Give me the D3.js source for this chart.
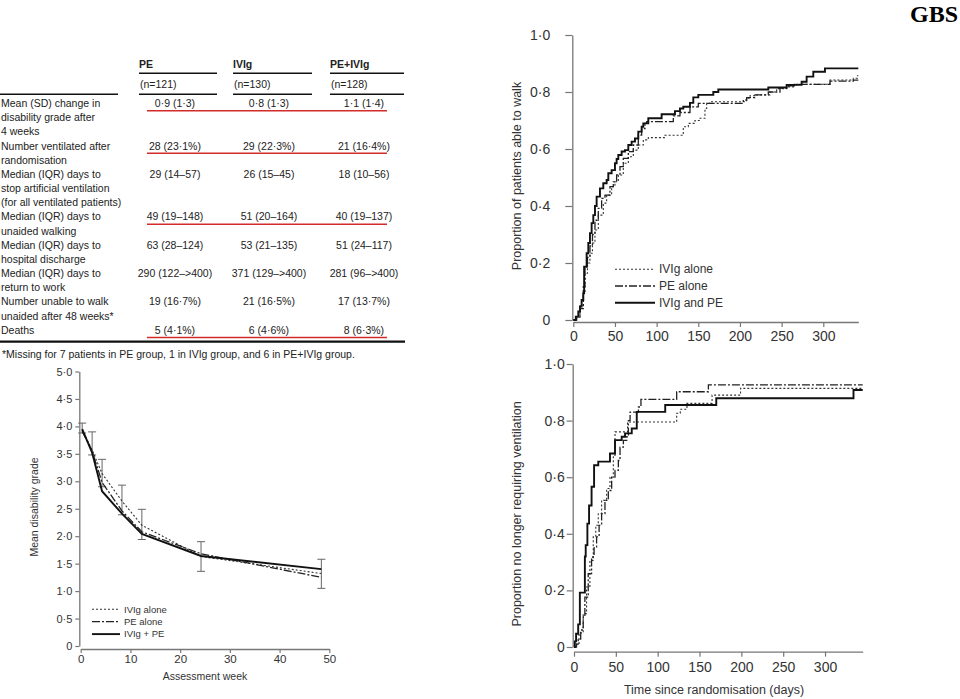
<!DOCTYPE html>
<html><head><meta charset="utf-8">
<script src="https://cdn.jsdelivr.net/npm/d3@7/dist/d3.min.js"></script>
<style>body{margin:0;background:#fff}svg{display:block}</style>
</head><body><svg id="c" width="960" height="699"></svg>
<script>
// ---------------- DATA ----------------
const title = "GBS";
// table
const groups = ["PE", "IVIg", "PE+IVIg"];
const groupN = ["(n=121)", "(n=130)", "(n=128)"];
const rowLabels = [
  ["Mean (SD) change in", "disability grade after", "4 weeks"],
  ["Number ventilated after", "randomisation"],
  ["Median (IQR) days to", "stop artificial ventilation", "(for all ventilated patients)"],
  ["Median (IQR) days to", "unaided walking"],
  ["Median (IQR) days to", "hospital discharge"],
  ["Median (IQR) days to", "return to work"],
  ["Number unable to walk", "unaided after 48 weeks*"],
  ["Deaths"]
];
const valuesPE   = ["0·9 (1·3)", "28 (23·1%)", "29 (14–57)", "49 (19–148)", "63 (28–124)", "290 (122–>400)", "19 (16·7%)", "5 (4·1%)"];
const valuesIVIg = ["0·8 (1·3)", "29 (22·3%)", "26 (15–45)", "51 (20–164)", "53 (21–135)", "371 (129–>400)", "21 (16·5%)", "6 (4·6%)"];
const valuesBoth = ["1·1 (1·4)", "21 (16·4%)", "18 (10–56)", "40 (19–137)", "51 (24–117)", "281 (96–>400)", "17 (13·7%)", "8 (6·3%)"];
const highlightedRows = [0, 1, 3, 7];
const footnote = "*Missing for 7 patients in PE group, 1 in IVIg group, and 6 in PE+IVIg group.";

// mean disability grade chart
const weeks      = [0.3, 2.3, 4.3, 8.3, 12.3, 24.2, 48.4];
const gradeIVIg  = [3.94, 3.57, 3.14, 2.64, 2.20, 1.63, 1.32];
const gradePE    = [3.91, 3.55, 2.98, 2.46, 2.08, 1.68, 1.25];
const gradeBoth  = [3.95, 3.52, 2.82, 2.41, 2.04, 1.64, 1.40];
const errLow     = [3.88, 3.48, 2.90, 2.39, 1.94, 1.36, 1.05];
const errHigh    = [4.06, 3.90, 3.40, 2.93, 2.49, 1.90, 1.58];
const gradeTicks = [0, 0.5, 1, 1.5, 2, 2.5, 3, 3.5, 4, 4.5, 5];
const weekTicks  = [0, 10, 20, 30, 40, 50];
const legendGrade = ["IVIg alone", "PE alone", "IVIg + PE"];

// Kaplan-Meier: able to walk  [day, proportion]
const walkIVIg = [[0,0],[4,0.01],[8,0.05],[12,0.10],[14,0.164],[17,0.20],[20,0.234],[23,0.27],[26,0.316],[30,0.368],[36,0.41],[40,0.438],[46,0.468],[50,0.485],[54,0.509],[60,0.55],[66,0.573],[72,0.596],[78,0.614],[84,0.632],[90,0.64],[110,0.648],[132,0.678],[138,0.69],[146,0.70],[152,0.708],[158,0.742],[160,0.76],[164,0.766],[208,0.778],[212,0.787],[218,0.79],[236,0.80],[244,0.812],[256,0.818],[264,0.827],[308,0.842],[336,0.848],[341,0.857]];
const walkPE   = [[0,0],[4,0.012],[8,0.04],[12,0.117],[14,0.187],[17,0.22],[20,0.26],[23,0.30],[26,0.35],[30,0.392],[34,0.427],[38,0.438],[44,0.468],[48,0.485],[52,0.509],[56,0.538],[60,0.567],[66,0.591],[72,0.614],[78,0.649],[82,0.672],[86,0.69],[88,0.696],[120,0.716],[128,0.728],[140,0.748],[150,0.76],[204,0.772],[208,0.78],[218,0.79],[234,0.80],[248,0.814],[258,0.822],[268,0.827],[308,0.838],[336,0.842]];
const walkBoth = [[0,0],[3,0.012],[6,0.03],[8,0.047],[10,0.07],[12,0.094],[13,0.187],[16,0.234],[18,0.27],[20,0.305],[22,0.34],[24,0.368],[26,0.40],[28,0.433],[32,0.462],[36,0.48],[40,0.491],[42,0.515],[46,0.526],[50,0.55],[52,0.565],[54,0.579],[58,0.591],[62,0.596],[66,0.614],[70,0.626],[74,0.637],[78,0.661],[82,0.678],[84,0.69],[90,0.708],[106,0.722],[122,0.733],[128,0.742],[132,0.748],[140,0.762],[144,0.781],[150,0.79],[168,0.80],[174,0.809],[234,0.816],[256,0.825],[274,0.836],[280,0.854],[288,0.871],[302,0.883]];
const walkEnd = 342;

// Kaplan-Meier: no longer requiring ventilation
const ventIVIg = [[0,0],[3,0.01],[6,0.05],[11,0.118],[15,0.212],[19,0.306],[23,0.389],[26,0.43],[29,0.471],[33,0.518],[39,0.56],[43,0.60],[47,0.677],[49,0.76],[64,0.795],[122.7,0.826],[127,0.84],[135,0.861],[165,0.89],[199,0.914]];
const ventPE   = [[0,0],[3,0.01],[5,0.025],[8,0.06],[11,0.106],[13,0.176],[17,0.259],[21,0.318],[24,0.35],[27,0.389],[30,0.43],[33,0.471],[37,0.518],[41,0.553],[45,0.60],[49,0.624],[53,0.659],[55,0.706],[59,0.73],[63,0.743],[65,0.80],[67,0.83],[77,0.848],[80,0.875],[122.7,0.902],[160.6,0.926]];
const ventBoth = [[0,0],[1,0.02],[2.5,0.047],[5,0.08],[7,0.192],[13,0.32],[14,0.36],[16,0.436],[18,0.50],[21,0.566],[24,0.642],[29,0.655],[43,0.684],[49,0.731],[57,0.743],[61,0.755],[69,0.772],[75,0.831],[109,0.855],[170,0.879],[334,0.908]];
const ventEnd = 345;

const propTicks = [0, 0.2, 0.4, 0.6, 0.8, 1.0];
const dayTicks  = [0, 50, 100, 150, 200, 250, 300];
const legendKM  = ["IVIg alone", "PE alone", "IVIg and PE"];

// ---------------- RENDER ----------------
const FONT = "'Liberation Sans', Arial, Helvetica, sans-serif";
const svg = d3.select("#c");
const fmtDot = d => d === 0 ? "0" : d3.format(".1f")(d).replace(".", "·");
const styles = [
  {dash: "2,2", w: 1.1, c: "#333"},
  {dash: "8,2,2,2", w: 1.3, c: "#222"},
  {dash: null, w: 1.9, c: "#111"}
];

svg.append("text").attr("x", 958).attr("y", 22).attr("text-anchor", "end")
  .style("font-family", "'Liberation Serif', 'Times New Roman', serif")
  .style("font-weight", "bold").style("font-size", "24px").text(title);

// ---- table ----
const T = svg.append("g").style("font-family", FONT).style("font-size", "10.5px").attr("fill", "#222");
const colLeft = [139, 233, 330], colRight = [217, 312, 404];
const colCenter = [175, 269, 364];
groups.forEach((g, i) => {
  T.append("text").attr("x", colLeft[i]).attr("y", 68).style("font-weight", "bold").text(g);
  T.append("text").attr("x", colLeft[i] + 1).attr("y", 87.5).text(groupN[i]);
  T.append("line").attr("x1", colLeft[i]).attr("x2", colRight[i]).attr("y1", 73.3).attr("y2", 73.3).attr("stroke", "#111").attr("stroke-width", 1.5);
  T.append("line").attr("x1", colLeft[i]).attr("x2", colRight[i]).attr("y1", 94.3).attr("y2", 94.3).attr("stroke", "#111").attr("stroke-width", 1.5);
});
T.append("line").attr("x1", 0).attr("x2", 118).attr("y1", 94.3).attr("y2", 94.3).attr("stroke", "#111").attr("stroke-width", 1.5);
const lineY = i => 103.3 + i * 14.17;
let li = 0;
const cols = [valuesPE, valuesIVIg, valuesBoth];
rowLabels.forEach((lines, r) => {
  const first = li;
  lines.forEach(s => { T.append("text").attr("x", 1).attr("y", lineY(li) + 3.7).text(s); li++; });
  cols.forEach((vals, c) => {
    T.append("text").attr("x", colCenter[c]).attr("y", lineY(first) + 3.7).attr("text-anchor", "middle").text(vals[r]);
  });
  if (highlightedRows.includes(r)) {
    T.append("line").attr("x1", 147).attr("x2", 387).attr("y1", lineY(first) + 7.5).attr("y2", lineY(first) + 7.5)
      .attr("stroke", "#d42a2a").attr("stroke-width", 1.5);
  }
});
T.append("line").attr("x1", 0).attr("x2", 405).attr("y1", 341.7).attr("y2", 341.7).attr("stroke", "#111").attr("stroke-width", 2.2);
T.append("text").attr("x", 2).attr("y", 357.5).text(footnote);

function styleAxis(g, size) {
  g.selectAll("path.domain").attr("stroke", "#777").attr("stroke-width", 1.3);
  g.selectAll(".tick line").attr("stroke", "#777").attr("stroke-width", 1.2);
  g.selectAll("text").attr("fill", "#333").style("font-family", FONT).style("font-size", size + "px");
}

// ---- mean disability grade ----
{
  const x = d3.scaleLinear().domain([0, 50]).range([80.7, 329.3]);
  const y = d3.scaleLinear().domain([0, 5]).range([646, 371.5]);
  const ga = svg.append("g").attr("transform", "translate(79.3,0)")
    .call(d3.axisLeft(y).tickValues(gradeTicks).tickFormat(fmtDot).tickSize(4).tickSizeOuter(0).tickPadding(3));
  styleAxis(ga, 11);
  const gx = svg.append("g").attr("transform", "translate(0,649)")
    .call(d3.axisBottom(x).tickValues(weekTicks).tickSize(4).tickSizeOuter(0).tickPadding(2));
  styleAxis(gx, 11.5);
  // error bars
  const eb = svg.append("g").attr("stroke", "#666").attr("stroke-width", 1);
  weeks.forEach((w, i) => {
    const cx = x(w);
    eb.append("line").attr("x1", cx).attr("x2", cx).attr("y1", y(errLow[i])).attr("y2", y(errHigh[i]));
    [errLow[i], errHigh[i]].forEach(v => eb.append("line").attr("x1", cx - 4).attr("x2", cx + 4).attr("y1", y(v)).attr("y2", y(v)));
  });
  const line = d3.line().x(d => x(d[0])).y(d => y(d[1]));
  [gradeIVIg, gradePE, gradeBoth].forEach((s, k) => {
    svg.append("path").datum(weeks.map((w, i) => [w, s[i]])).attr("d", line)
      .attr("fill", "none").attr("stroke", styles[k].c).attr("stroke-width", styles[k].w)
      .attr("stroke-dasharray", styles[k].dash);
  });
  svg.append("text").attr("transform", "translate(38,507) rotate(-90)").attr("text-anchor", "middle")
    .style("font-family", FONT).style("font-size", "10.5px").attr("fill", "#333").text("Mean disability grade");
  svg.append("text").attr("x", 205).attr("y", 679.5).attr("text-anchor", "middle")
    .style("font-family", FONT).style("font-size", "10.5px").attr("fill", "#333").text("Assessment week");
  legendGrade.forEach((t, k) => {
    const ly = 609.3 + k * 12.4;
    svg.append("line").attr("x1", 92).attr("x2", 120).attr("y1", ly).attr("y2", ly)
      .attr("stroke", styles[k].c).attr("stroke-width", styles[k].w).attr("stroke-dasharray", styles[k].dash);
    svg.append("text").attr("x", 124).attr("y", ly + 3.3).style("font-family", FONT).style("font-size", "9.5px")
      .attr("fill", "#333").text(t);
  });
}

// ---- KM charts ----
function km(cfg) {
  const x = d3.scaleLinear().domain([0, cfg.end]).range(cfg.xr);
  const y = d3.scaleLinear().domain([0, 1]).range(cfg.yr);
  const ga = svg.append("g").attr("transform", `translate(${cfg.yAxisX},0)`)
    .call(d3.axisLeft(y).tickValues(propTicks).tickFormat(fmtDot).tickSize(cfg.tick).tickSizeOuter(0).tickPadding(cfg.ypad));
  styleAxis(ga, 14);
  const gx = svg.append("g").attr("transform", `translate(0,${cfg.xAxisY})`)
    .call(d3.axisBottom(x).tickValues(dayTicks).tickSize(5).tickSizeOuter(0).tickPadding(cfg.xpad));
  styleAxis(gx, 14);
  const line = d3.line().curve(d3.curveStepAfter).x(d => x(d[0])).y(d => y(d[1]));
  cfg.series.forEach((s, k) => {
    const pts = s.concat([[cfg.end, s[s.length - 1][1]]]);
    svg.append("path").datum(pts).attr("d", line).attr("fill", "none")
      .attr("stroke", styles[k].c).attr("stroke-width", styles[k].w).attr("stroke-dasharray", styles[k].dash);
  });
  svg.append("text").attr("transform", `translate(${cfg.ylabX},${cfg.ylabY}) rotate(-90)`).attr("text-anchor", "middle")
    .style("font-family", FONT).style("font-size", "12.5px").attr("fill", "#333").text(cfg.ylab);
  return {x, y};
}
km({end: walkEnd, xr: [573.3, 858.3], yr: [320, 35], yAxisX: 572.3, xAxisY: 322, tick: 7, ypad: 15, xpad: 4,
    series: [walkIVIg, walkPE, walkBoth], ylab: "Proportion of patients able to walk", ylabX: 521, ylabY: 176});
km({end: ventEnd, xr: [574, 862.7], yr: [647, 364], yAxisX: 572.7, xAxisY: 651.7, tick: 6, ypad: 2, xpad: 5,
    series: [ventIVIg, ventPE, ventBoth], ylab: "Proportion no longer requiring ventilation", ylabX: 521, ylabY: 514});
svg.append("text").attr("x", 714).attr("y", 694).attr("text-anchor", "middle")
  .style("font-family", FONT).style("font-size", "12.5px").attr("fill", "#333").text("Time since randomisation (days)");
legendKM.forEach((t, k) => {
  const ly = 269.3 + k * 16.7;
  svg.append("line").attr("x1", 615).attr("x2", 655).attr("y1", ly).attr("y2", ly)
    .attr("stroke", styles[k].c).attr("stroke-width", styles[k].w).attr("stroke-dasharray", styles[k].dash);
  svg.append("text").attr("x", 659).attr("y", ly + 4).style("font-family", FONT).style("font-size", "12px")
    .attr("fill", "#333").text(t);
});
</script></body></html>
